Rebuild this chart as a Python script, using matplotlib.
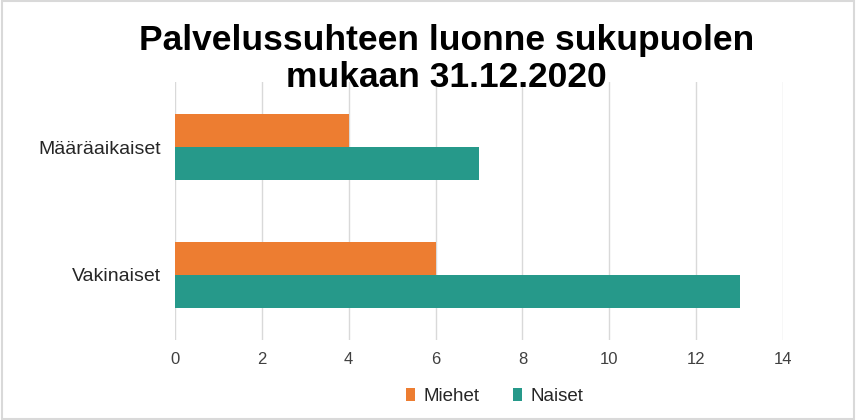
import numpy as np
import matplotlib.pyplot as plt
from matplotlib.patches import Rectangle

plt.rcParams['font.family'] = ['Liberation Sans', 'DejaVu Sans']

categories = ['Vakinaiset', 'Määräaikaiset']
miehet = [6, 4]
naiset = [13, 7]
series_names = ['Miehet', 'Naiset']
colors = ['#ED7D31', '#26998A']
title = 'Palvelussuhteen luonne sukupuolen\nmukaan 31.12.2020'

fig = plt.figure(figsize=(8.56, 4.2), dpi=100)
ax = fig.add_axes([0.2044, 0.1905, 0.7103, 0.6143])

y = np.arange(len(categories))
h = 0.26
ax.barh(y + h / 2, miehet, height=h, color=colors[0], label=series_names[0], zorder=3)
ax.barh(y - h / 2, naiset, height=h, color=colors[1], label=series_names[1], zorder=3)

ax.set_xlim(0, 14)
ax.set_ylim(-0.51, 1.51)
ax.set_xticks(np.arange(0, 15, 2))
ax.set_yticks(y)
ax.set_yticklabels(categories, fontsize=14, color='#262626')
ax.tick_params(axis='x', labelsize=12, colors='#404040', length=0, pad=9)
ax.tick_params(axis='y', length=0, pad=10)
ax.grid(axis='x', color='#D9D9D9', linewidth=1, zorder=0)
for s in ax.spines.values():
    s.set_visible(False)

fig.text(0.522, 0.86, title, ha='center', va='center', fontsize=25.5,
         fontweight='bold', linespacing=1.15)

fig.legend(loc='center', bbox_to_anchor=(0.578, 0.055), ncol=2, frameon=False,
           fontsize=13.5, handlelength=0.5, handleheight=0.7, handletextpad=0.45,
           columnspacing=1.75, labelcolor='#262626')

fig.patches.append(Rectangle((0.002, 0.003), 0.996, 0.994, transform=fig.transFigure,
                             fill=False, edgecolor='#D9D9D9', linewidth=1.5))

fig.savefig('out.png', dpi=100)
